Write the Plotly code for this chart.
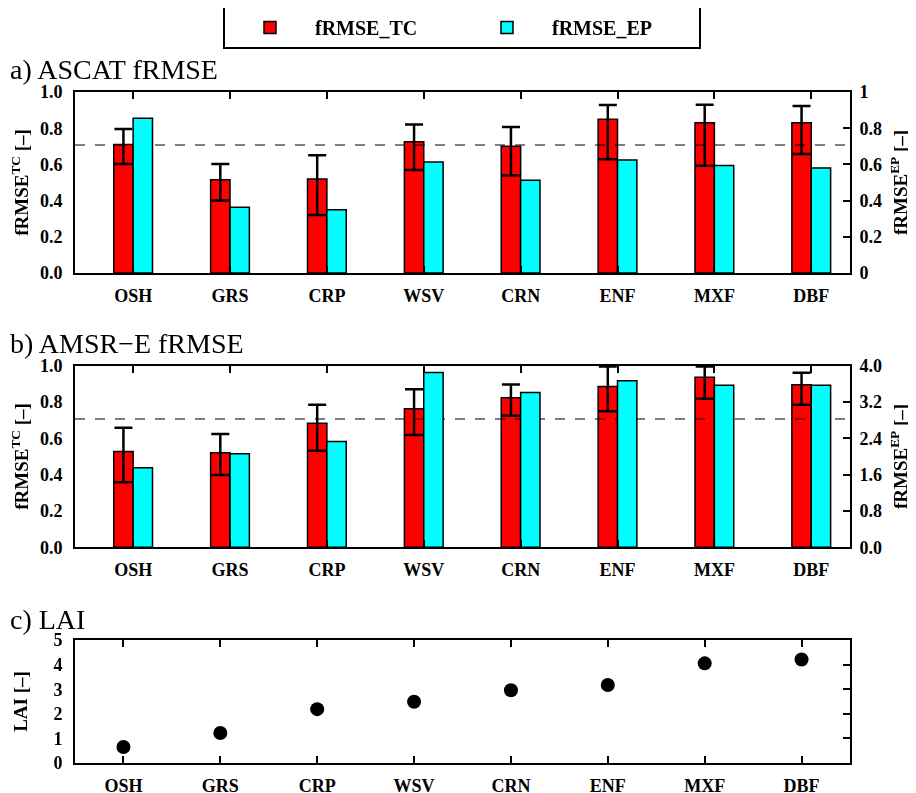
import plotly.graph_objects as go

# ---------------- data ----------------
categories = ["OSH", "GRS", "CRP", "WSV", "CRN", "ENF", "MXF", "DBF"]

a_tc = [0.71, 0.515, 0.52, 0.725, 0.70, 0.85, 0.83, 0.83]
a_tc_hi = [0.795, 0.602, 0.65, 0.82, 0.806, 0.928, 0.93, 0.923]
a_tc_lo = [0.602, 0.40, 0.321, 0.569, 0.538, 0.629, 0.593, 0.657]
a_ep = [0.855, 0.363, 0.35, 0.613, 0.512, 0.624, 0.594, 0.58]

b_tc = [0.528, 0.521, 0.683, 0.763, 0.824, 0.886, 0.936, 0.895]
b_tc_hi = [0.659, 0.624, 0.785, 0.870, 0.897, 0.995, 0.995, 0.961]
b_tc_lo = [0.358, 0.398, 0.532, 0.618, 0.725, 0.749, 0.818, 0.785]
b_ep = [1.75, 2.06, 2.33, 3.85, 3.41, 3.67, 3.57, 3.57]

lai = [0.65, 1.22, 2.19, 2.49, 2.96, 3.17, 4.05, 4.21]

threshold = 0.707

# ---------------- styling ----------------
FONT = "Liberation Serif"
RED = "#ff0000"
CYAN = "#00ffff"
xpos = list(range(len(categories)))
bar_range = [-0.6, 7.4]
lai_range = [-0.5, 7.5]
OFF = 8  # page body margin: the figure starts 8px from the window corner
W, H = 916 - OFF, 793 - OFF
xdom = [(75 - OFF) / W, (850 - OFF) / W]


def ydom(top_px, bot_px):
    return [1 - (bot_px - OFF) / H, 1 - (top_px - OFF) / H]


tickfont = dict(family=FONT, size=18, color="black", weight="bold")
titlefont = dict(family=FONT, size=19, color="black", weight="bold")

fig = go.Figure()


def add_panel(tc, hi, lo, ep, xa, ya, ya2, show):
    fig.add_trace(go.Bar(
        x=xpos, y=tc, name="fRMSE_TC", showlegend=show, legendrank=1,
        marker=dict(color=RED, line=dict(color="black", width=1.5)),
        width=0.2, offset=-0.2,
        error_y=dict(type="data", symmetric=False,
                     array=[h - v for h, v in zip(hi, tc)],
                     arrayminus=[v - l for v, l in zip(tc, lo)],
                     color="black", thickness=2.5, width=9),
        xaxis=xa, yaxis=ya,
    ))
    fig.add_trace(go.Scatter(
        x=bar_range, y=[threshold, threshold], mode="lines",
        line=dict(color="rgba(0,0,0,0.5)", width=2, dash="10px,10px"),
        showlegend=False, hoverinfo="skip", xaxis=xa, yaxis=ya,
    ))
    fig.add_trace(go.Bar(
        x=xpos, y=ep, name="fRMSE_EP", showlegend=show, legendrank=2,
        marker=dict(color=CYAN, line=dict(color="black", width=1.5)),
        width=0.2, offset=0.0,
        xaxis=xa, yaxis=ya2,
    ))


add_panel(a_tc, a_tc_hi, a_tc_lo, a_ep, "x", "y", "y2", True)
add_panel(b_tc, b_tc_hi, b_tc_lo, b_ep, "x2", "y3", "y4", False)

fig.add_trace(go.Scatter(
    x=xpos, y=lai, mode="markers", showlegend=False,
    marker=dict(color="black", size=14), xaxis="x3", yaxis="y5",
))
# invisible trace to bind right-hand tick axis of panel c
fig.add_trace(go.Scatter(
    x=xpos, y=lai, mode="markers", showlegend=False, opacity=0,
    hoverinfo="skip", xaxis="x3", yaxis="y6",
))

common_x = dict(
    tickmode="array", tickvals=xpos, ticktext=categories,
    ticks="inside", ticklen=7, tickwidth=1.5, tickcolor="black",
    showline=True, linecolor="black", linewidth=2, mirror="ticks",
    showgrid=False, zeroline=False, tickfont=tickfont, fixedrange=True,
    ticklabelstandoff=5,
)
left_y = dict(
    ticks="", showline=True, linecolor="black", linewidth=2,
    showgrid=False, zeroline=False, tickfont=tickfont, side="left",
    ticklabelstandoff=7,
)
right_y = dict(
    ticks="inside", ticklen=7, tickwidth=1.5, tickcolor="black",
    showline=True, linecolor="black", linewidth=2,
    showgrid=False, zeroline=False, tickfont=tickfont, side="right",
    ticklabelstandoff=4,
)

fig.update_layout(
    width=W, height=H,
    margin=dict(l=0, r=0, t=0, b=0, autoexpand=False),
    paper_bgcolor="white", plot_bgcolor="white",
    barmode="overlay",
    font=dict(family=FONT, color="black"),
    showlegend=True,
    legend=dict(
        orientation="h", x=(462 - OFF) / W, xanchor="center",
        y=1 - (6 - OFF) / H, yanchor="top",
        bordercolor="black", borderwidth=2, bgcolor="white",
        font=dict(family=FONT, size=20, color="black", weight="bold"),
        itemwidth=80, entrywidth=142, entrywidthmode="pixels", traceorder="normal",
    ),
    xaxis=dict(domain=xdom, range=bar_range, anchor="y", **common_x),
    yaxis=dict(domain=ydom(92, 273), range=[0, 1], dtick=0.2, tickformat=".1f",
               anchor="x",
               title=dict(text="fRMSE<sup>TC</sup> [–]", font=titlefont, standoff=8),
               **left_y),
    yaxis2=dict(range=[0, 1], dtick=0.2, overlaying="y", anchor="x",
                title=dict(text="fRMSE<sup>EP</sup> [–]", font=titlefont, standoff=13),
                **right_y),
    xaxis2=dict(domain=xdom, range=bar_range, anchor="y3", **common_x),
    yaxis3=dict(domain=ydom(365.7, 547.3), range=[0, 1], dtick=0.2, tickformat=".1f",
                anchor="x2",
                title=dict(text="fRMSE<sup>TC</sup> [–]", font=titlefont, standoff=8),
                **left_y),
    yaxis4=dict(range=[0, 4], dtick=0.8, tickformat=".1f", overlaying="y3", anchor="x2",
                title=dict(text="fRMSE<sup>EP</sup> [–]", font=titlefont, standoff=13),
                **right_y),
    xaxis3=dict(domain=xdom, range=lai_range, anchor="y5", **common_x),
    yaxis5=dict(domain=ydom(640, 763), range=[0, 5], dtick=1, anchor="x3",
                title=dict(text="LAI [–]", font=titlefont, standoff=21),
                **left_y),
    yaxis6=dict(range=[0, 5], dtick=1, overlaying="y5", anchor="x3",
                ticks="inside", ticklen=7, tickwidth=1.5, tickcolor="black",
                showticklabels=False, showline=True, linecolor="black", linewidth=2,
                showgrid=False, zeroline=False, side="right"),
)

title_font = dict(family=FONT, size=28, color="black")
for text, ypx in [("a) ASCAT fRMSE", 70), ("b) AMSR−E fRMSE", 343), ("c) LAI", 619)]:
    fig.add_annotation(text=text, xref="paper", yref="paper", x=0, y=1 - (ypx - OFF) / H,
                       xanchor="left", yanchor="middle", showarrow=False, font=title_font)

fig.write_html("out.html")
